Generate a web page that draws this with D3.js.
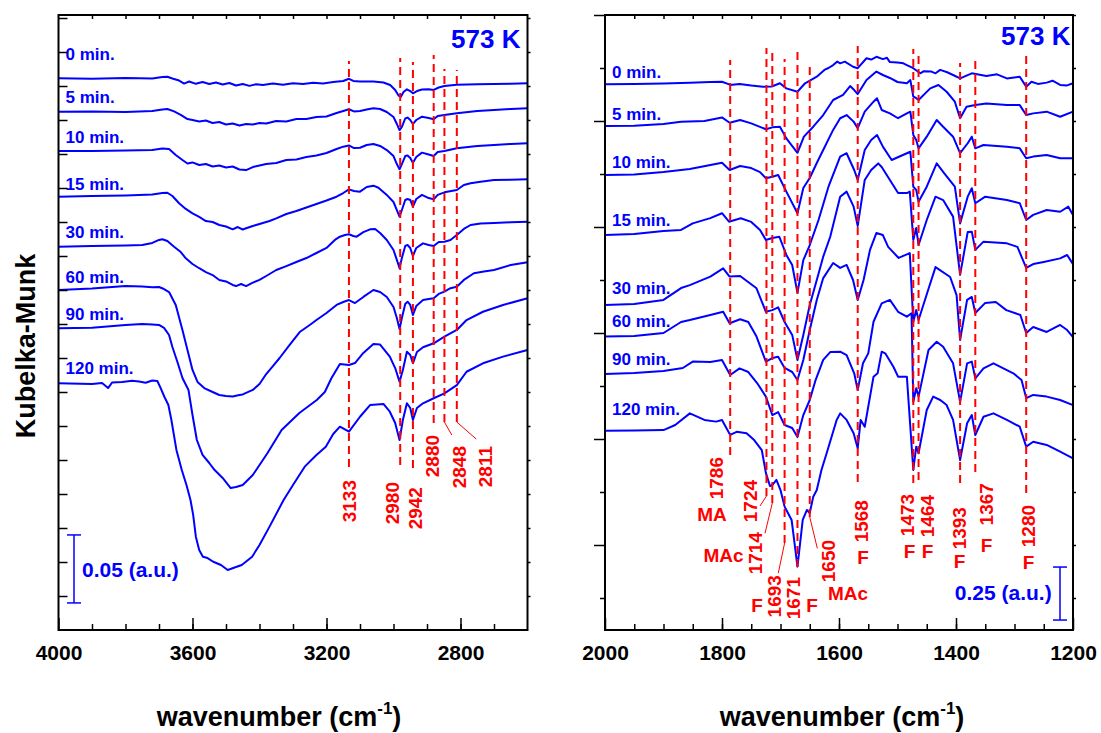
<!DOCTYPE html>
<html>
<head>
<meta charset="utf-8">
<script src="https://cdn.jsdelivr.net/npm/d3@7"></script>
<style>
  body { margin: 0; background: #fff; }
  svg { display: block; }
</style>
</head>
<body>
<div id="chart"></div>
<script>
// ---- data ----
const timeLabels = ['0 min.', '5 min.', '10 min.', '15 min.', '30 min.', '60 min.', '90 min.', '120 min.'];

// 4000-2600 cm-1, Kubelka-Munk (a.u., stacked)
const chSpectra = [
  [[4000,.4057],[3900,.4054],[3800,.4059],[3720,.4055],[3690,.4066],[3675,.4068],[3660,.4055],[3640,.4040],[3625,.4018],[3610,.4033],[3590,.4016],[3570,.4029],[3550,.4015],[3530,.4026],[3510,.4011],[3490,.4022],[3470,.4004],[3450,.4015],[3430,.4001],[3410,.4013],[3390,.4007],[3360,.4018],[3330,.4009],[3300,.4021],[3270,.4015],[3240,.4024],[3210,.4018],[3180,.4029],[3150,.4037],[3133,.4053],[3120,.4037],[3100,.4033],[3060,.4033],[3030,.4026],[3010,.4007],[2995,.3971],[2985,.3930],[2978,.3921],[2970,.3956],[2960,.3976],[2950,.3963],[2942,.3946],[2930,.3963],[2915,.3974],[2895,.3976],[2880,.3971],[2865,.3989],[2848,.4000],[2811,.4010],[2750,.4013],[2700,.4015],[2650,.4017],[2600,.4020]],
  [[4000,.3811],[3900,.3813],[3800,.3809],[3720,.3816],[3690,.3827],[3675,.3831],[3655,.3813],[3635,.3787],[3615,.3757],[3600,.3750],[3580,.3739],[3560,.3746],[3540,.3728],[3520,.3735],[3500,.3717],[3480,.3724],[3460,.3710],[3440,.3721],[3420,.3717],[3400,.3728],[3380,.3724],[3350,.3743],[3320,.3739],[3290,.3757],[3260,.3757],[3230,.3772],[3200,.3776],[3170,.3801],[3150,.3816],[3133,.3829],[3118,.3813],[3100,.3816],[3080,.3827],[3060,.3836],[3040,.3831],[3020,.3809],[3000,.3772],[2990,.3721],[2982,.3676],[2975,.3699],[2965,.3761],[2958,.3768],[2950,.3750],[2942,.3721],[2932,.3750],[2915,.3774],[2895,.3765],[2880,.3755],[2868,.3779],[2848,.3787],[2811,.3799],[2750,.3816],[2700,.3824],[2650,.3831],[2600,.3836]],
  [[4000,.3522],[3900,.3522],[3800,.3526],[3720,.3529],[3690,.3540],[3670,.3537],[3650,.3493],[3630,.3456],[3615,.3430],[3600,.3438],[3580,.3419],[3560,.3426],[3540,.3408],[3520,.3415],[3500,.3401],[3480,.3408],[3460,.3386],[3440,.3382],[3420,.3404],[3400,.3415],[3380,.3426],[3350,.3434],[3320,.3456],[3290,.3460],[3260,.3478],[3230,.3489],[3200,.3507],[3170,.3537],[3150,.3554],[3133,.3563],[3118,.3544],[3100,.3546],[3080,.3566],[3060,.3574],[3040,.3559],[3020,.3529],[3000,.3485],[2990,.3426],[2982,.3388],[2975,.3426],[2965,.3485],[2958,.3489],[2950,.3471],[2942,.3436],[2932,.3478],[2915,.3510],[2895,.3496],[2880,.3485],[2868,.3515],[2848,.3522],[2811,.3542],[2750,.3559],[2700,.3566],[2650,.3574],[2600,.3579]],
  [[4000,.3186],[3900,.3191],[3800,.3195],[3720,.3202],[3690,.3213],[3675,.3215],[3660,.3191],[3640,.3138],[3620,.3096],[3600,.3064],[3580,.3037],[3560,.3007],[3540,.3000],[3520,.2978],[3500,.2967],[3480,.2946],[3465,.2963],[3450,.2945],[3440,.2954],[3420,.2971],[3400,.2985],[3370,.3007],[3350,.3027],[3320,.3059],[3290,.3081],[3260,.3107],[3230,.3132],[3200,.3158],[3170,.3186],[3150,.3213],[3133,.3240],[3118,.3228],[3100,.3223],[3080,.3257],[3060,.3267],[3045,.3252],[3020,.3199],[3000,.3147],[2990,.3088],[2982,.3039],[2975,.3088],[2965,.3162],[2958,.3169],[2950,.3162],[2942,.3113],[2932,.3169],[2915,.3199],[2895,.3176],[2880,.3167],[2868,.3199],[2848,.3218],[2811,.3235],[2790,.3272],[2770,.3285],[2740,.3296],[2700,.3309],[2650,.3311],[2600,.3314]],
  [[4000,.2818],[3900,.2824],[3800,.2827],[3750,.2831],[3720,.2846],[3700,.2868],[3690,.2873],[3675,.2860],[3655,.2818],[3635,.2779],[3620,.2733],[3600,.2691],[3580,.2660],[3560,.2632],[3540,.2610],[3520,.2574],[3500,.2563],[3480,.2537],[3470,.2529],[3455,.2544],[3440,.2529],[3420,.2554],[3400,.2574],[3380,.2603],[3350,.2647],[3320,.2676],[3290,.2706],[3260,.2735],[3230,.2772],[3200,.2809],[3175,.2868],[3160,.2892],[3145,.2904],[3133,.2910],[3120,.2897],[3110,.2892],[3090,.2926],[3070,.2946],[3055,.2949],[3040,.2919],[3020,.2868],[3000,.2794],[2990,.2721],[2982,.2660],[2975,.2735],[2965,.2824],[2958,.2831],[2950,.2809],[2942,.2750],[2932,.2809],[2912,.2843],[2895,.2831],[2880,.2824],[2865,.2853],[2848,.2855],[2830,.2868],[2811,.2904],[2790,.2949],[2770,.2978],[2740,.2989],[2700,.2993],[2650,.2998],[2600,.3002]],
  [[4000,.2500],[3900,.2511],[3800,.2529],[3750,.2526],[3720,.2520],[3700,.2522],[3685,.2507],[3670,.2485],[3650,.2390],[3630,.2206],[3615,.2059],[3600,.1912],[3585,.1824],[3565,.1779],[3540,.1750],[3520,.1728],[3500,.1721],[3480,.1717],[3460,.1728],[3450,.1732],[3420,.1765],[3400,.1809],[3380,.1882],[3360,.1941],[3340,.2000],[3310,.2096],[3280,.2191],[3250,.2243],[3230,.2279],[3200,.2331],[3170,.2390],[3150,.2412],[3133,.2426],[3115,.2404],[3090,.2449],[3060,.2500],[3040,.2485],[3020,.2449],[3000,.2375],[2990,.2294],[2982,.2213],[2975,.2294],[2965,.2397],[2958,.2414],[2950,.2390],[2942,.2316],[2932,.2382],[2912,.2426],[2895,.2434],[2880,.2439],[2865,.2471],[2848,.2488],[2830,.2513],[2811,.2524],[2790,.2574],[2760,.2623],[2730,.2636],[2700,.2647],[2650,.2684],[2600,.2704]],
  [[4000,.2218],[3900,.2223],[3800,.2243],[3750,.2250],[3720,.2246],[3700,.2243],[3685,.2221],[3670,.2169],[3660,.2081],[3645,.1971],[3630,.1853],[3612,.1765],[3600,.1581],[3587,.1397],[3570,.1287],[3550,.1228],[3534,.1176],[3510,.1118],[3486,.1044],[3470,.1051],[3450,.1066],[3420,.1140],[3376,.1301],[3334,.1471],[3281,.1596],[3229,.1691],[3205,.1750],[3185,.1853],[3160,.1956],[3133,.1949],[3115,.1963],[3090,.2037],[3060,.2103],[3040,.2099],[3011,.2010],[2995,.1926],[2982,.1826],[2972,.1912],[2960,.2046],[2950,.2022],[2942,.1961],[2930,.2044],[2912,.2079],[2880,.2108],[2848,.2157],[2811,.2206],[2782,.2279],[2733,.2340],[2673,.2390],[2600,.2439]],
  [[4000,.1814],[3900,.1809],[3870,.1816],[3852,.1779],[3840,.1820],[3810,.1824],[3780,.1833],[3760,.1827],[3740,.1818],[3720,.1835],[3705,.1831],[3695,.1779],[3684,.1715],[3672,.1654],[3663,.1544],[3648,.1324],[3632,.1176],[3618,.1066],[3606,.0956],[3598,.0846],[3590,.0686],[3580,.0588],[3569,.0539],[3555,.0529],[3538,.0502],[3515,.0478],[3495,.0441],[3470,.0463],[3453,.0478],[3422,.0539],[3400,.0625],[3370,.0760],[3328,.0956],[3300,.1066],[3265,.1201],[3230,.1287],[3202,.1348],[3180,.1441],[3160,.1495],[3133,.1458],[3100,.1568],[3070,.1654],[3030,.1662],[3011,.1605],[2995,.1522],[2982,.1397],[2972,.1544],[2960,.1667],[2950,.1632],[2942,.1544],[2930,.1632],[2912,.1667],[2880,.1704],[2848,.1740],[2811,.1801],[2782,.1899],[2733,.1961],[2673,.2010],[2600,.2059]]
];

// 2000-1200 cm-1, Kubelka-Munk (a.u., stacked)
const fpSpectra = [
  [[2000,2.423],[1950,2.425],[1900,2.427],[1855,2.431],[1820,2.434],[1800,2.435],[1790,2.425],[1786,2.420],[1770,2.425],[1750,2.417],[1730,2.412],[1715,2.413],[1701,2.428],[1690,2.404],[1671,2.388],[1658,2.428],[1638,2.459],[1625,2.491],[1618,2.500],[1610,2.514],[1603,2.530],[1598,2.522],[1590,2.530],[1576,2.506],[1568,2.499],[1553,2.546],[1545,2.540],[1536,2.553],[1525,2.542],[1518,2.548],[1513,2.528],[1500,2.526],[1490,2.522],[1484,2.514],[1473,2.499],[1461,2.475],[1455,2.485],[1442,2.483],[1435,2.475],[1427,2.491],[1415,2.480],[1405,2.467],[1393,2.451],[1373,2.475],[1348,2.462],[1330,2.470],[1313,2.451],[1291,2.459],[1280,2.412],[1271,2.435],[1260,2.425],[1245,2.431],[1235,2.440],[1222,2.420],[1210,2.418],[1200,2.428]],
  [[2000,2.226],[1950,2.228],[1900,2.236],[1870,2.247],[1830,2.250],[1800,2.267],[1787,2.242],[1769,2.255],[1750,2.239],[1725,2.211],[1714,2.220],[1701,2.223],[1690,2.168],[1671,2.100],[1660,2.176],[1644,2.223],[1627,2.278],[1610,2.349],[1593,2.373],[1581,2.415],[1574,2.396],[1568,2.377],[1553,2.443],[1536,2.483],[1525,2.467],[1513,2.453],[1500,2.434],[1484,2.428],[1478,2.443],[1473,2.365],[1469,2.360],[1464,2.349],[1444,2.404],[1430,2.420],[1416,2.388],[1402,2.341],[1393,2.263],[1382,2.317],[1367,2.325],[1348,2.333],[1313,2.325],[1291,2.325],[1280,2.278],[1268,2.286],[1245,2.294],[1222,2.270],[1200,2.294]],
  [[2000,1.995],[1950,1.998],[1900,2.009],[1855,2.024],[1800,2.053],[1787,2.019],[1769,2.038],[1750,2.028],[1735,2.009],[1725,1.980],[1714,1.987],[1704,1.995],[1690,1.917],[1671,1.815],[1661,1.934],[1650,1.981],[1638,2.052],[1627,2.113],[1610,2.208],[1598,2.263],[1587,2.278],[1575,2.247],[1568,2.216],[1556,2.294],[1541,2.341],[1535,2.357],[1527,2.302],[1513,2.286],[1499,2.263],[1484,2.286],[1478,2.294],[1473,2.184],[1468,2.160],[1464,2.121],[1450,2.176],[1433,2.255],[1422,2.223],[1405,2.176],[1393,2.098],[1380,2.145],[1373,2.176],[1367,2.121],[1353,2.137],[1313,2.129],[1291,2.121],[1280,2.074],[1268,2.082],[1245,2.090],[1222,2.074],[1200,2.074]],
  [[2000,1.712],[1950,1.717],[1900,1.731],[1870,1.736],[1850,1.767],[1820,1.792],[1800,1.815],[1788,1.775],[1768,1.791],[1750,1.774],[1735,1.736],[1725,1.689],[1714,1.698],[1702,1.704],[1690,1.618],[1680,1.571],[1671,1.439],[1661,1.594],[1651,1.657],[1635,1.783],[1618,1.940],[1598,2.082],[1587,2.098],[1574,2.019],[1568,1.972],[1556,2.113],[1545,2.160],[1535,2.184],[1525,2.129],[1510,2.066],[1484,2.098],[1478,2.105],[1473,1.940],[1468,1.925],[1464,1.869],[1450,1.940],[1433,2.050],[1420,2.003],[1402,1.940],[1393,1.767],[1380,1.893],[1373,1.933],[1367,1.862],[1350,1.893],[1313,1.877],[1291,1.862],[1280,1.783],[1268,1.807],[1245,1.830],[1222,1.822],[1208,1.846],[1200,1.807]],
  [[2000,1.382],[1950,1.387],[1900,1.406],[1870,1.462],[1855,1.476],[1820,1.516],[1798,1.555],[1787,1.516],[1769,1.519],[1741,1.461],[1725,1.350],[1714,1.358],[1704,1.371],[1693,1.302],[1680,1.241],[1671,1.123],[1661,1.241],[1650,1.382],[1638,1.500],[1627,1.610],[1615,1.704],[1598,1.893],[1587,1.917],[1575,1.846],[1568,1.755],[1556,1.972],[1545,2.019],[1533,2.050],[1527,2.033],[1513,1.972],[1499,1.910],[1484,1.910],[1479,1.917],[1473,1.689],[1468,1.745],[1464,1.665],[1450,1.783],[1435,1.893],[1422,1.877],[1405,1.799],[1393,1.524],[1380,1.726],[1373,1.728],[1367,1.642],[1353,1.681],[1313,1.673],[1295,1.656],[1280,1.557],[1268,1.575],[1250,1.585],[1222,1.602],[1210,1.618],[1200,1.575]],
  [[2000,1.233],[1950,1.236],[1900,1.250],[1870,1.302],[1855,1.311],[1820,1.335],[1798,1.350],[1787,1.296],[1769,1.315],[1755,1.302],[1741,1.233],[1725,1.115],[1714,1.132],[1704,1.138],[1693,1.085],[1680,1.066],[1671,1.028],[1661,1.123],[1650,1.264],[1638,1.406],[1627,1.509],[1610,1.580],[1598,1.557],[1587,1.571],[1576,1.500],[1568,1.406],[1558,1.500],[1547,1.642],[1536,1.722],[1525,1.712],[1516,1.656],[1498,1.604],[1479,1.627],[1473,1.302],[1468,1.358],[1464,1.311],[1446,1.467],[1435,1.561],[1410,1.514],[1399,1.429],[1393,1.217],[1381,1.406],[1373,1.420],[1367,1.344],[1350,1.392],[1332,1.396],[1314,1.358],[1290,1.335],[1280,1.250],[1268,1.278],[1245,1.255],[1222,1.288],[1210,1.264],[1200,1.231]],
  [[2000,1.057],[1950,1.061],[1900,1.071],[1867,1.085],[1850,1.115],[1820,1.113],[1800,1.123],[1786,1.052],[1770,1.083],[1755,1.066],[1740,1.014],[1725,0.950],[1714,0.863],[1704,0.877],[1693,0.816],[1680,0.802],[1671,0.759],[1661,0.863],[1650,0.934],[1640,1.028],[1627,1.123],[1615,1.160],[1598,1.162],[1587,1.146],[1574,1.060],[1568,0.981],[1559,1.107],[1550,1.154],[1541,1.303],[1527,1.390],[1513,1.406],[1499,1.350],[1484,1.327],[1476,1.343],[1473,0.926],[1468,0.989],[1464,0.950],[1447,1.170],[1433,1.209],[1422,1.185],[1405,1.107],[1393,0.925],[1381,1.107],[1373,1.115],[1367,1.036],[1353,1.083],[1336,1.107],[1302,1.060],[1288,1.028],[1280,0.943],[1268,0.958],[1245,0.950],[1222,0.934],[1200,0.910]],
  [[2000,0.789],[1950,0.790],[1900,0.792],[1880,0.816],[1855,0.871],[1830,0.840],[1810,0.832],[1800,0.840],[1786,0.769],[1775,0.784],[1758,0.777],[1745,0.745],[1732,0.698],[1725,0.590],[1718,0.528],[1714,0.533],[1707,0.557],[1700,0.509],[1693,0.431],[1681,0.368],[1671,0.148],[1662,0.368],[1655,0.415],[1650,0.401],[1644,0.478],[1638,0.509],[1630,0.604],[1621,0.684],[1604,0.840],[1598,0.871],[1587,0.840],[1575,0.777],[1568,0.706],[1563,0.840],[1556,0.808],[1541,1.044],[1534,1.060],[1527,1.162],[1521,1.154],[1507,1.091],[1499,1.044],[1484,1.044],[1473,0.604],[1468,0.714],[1464,0.683],[1450,0.887],[1439,0.950],[1427,0.934],[1416,0.910],[1405,0.840],[1393,0.651],[1381,0.824],[1373,0.863],[1367,0.769],[1353,0.855],[1336,0.871],[1313,0.840],[1291,0.808],[1280,0.714],[1268,0.737],[1245,0.722],[1222,0.690],[1200,0.659]]
];

// band markers (cm-1) with extent of the dashed guide (a.u.)
const chBands = [3133, 2980, 2942, 2880, 2848, 2811];
const chBandTop = [0.4184, 0.4206, 0.4176, 0.4228, 0.4125, 0.4118];
const chBandBottom = [0.1199, 0.1213, 0.1191, 0.1522, 0.1529, 0.1529];
const chLabelAt = [[3133, 0.1103], [3004, 0.1088], [2936, 0.1051], [2884, 0.1434], [2805, 0.1353], [2727, 0.1353]];
const chLeaders = [[[2848, 0.1529], [2826, 0.1434]], [[2811, 0.1529], [2753, 0.1404]]];

const fpBands = [1786, 1724, 1714, 1693, 1671, 1650, 1568, 1473, 1464, 1393, 1367, 1280];
const fpBandTop = [2.538, 2.594, 2.575, 2.542, 2.575, 2.509, 2.604, 2.590, 2.575, 2.524, 2.557, 2.557];
const fpBandBottom = [0.675, 0.481, 0.448, 0.259, 0.146, 0.382, 0.547, 0.542, 0.557, 0.542, 0.594, 0.495];
const fpLabelAt = [[1809.4, 0.665], [1752.1, 0.557], [1743.6, 0.311], [1711.1, 0.108], [1677.6, 0.099], [1617.8, 0.274],
  [1562.4, 0.462], [1482.9, 0.491], [1448.7, 0.486], [1394, 0.429], [1347.9, 0.542], [1276.1, 0.439]];
const fpLeaders = [[[1724, 0.481], [1735, 0.434]], [[1714, 0.448], [1726.5, 0.305]],
  [[1693, 0.259], [1703.8, 0.117]], [[1650, 0.382], [1637, 0.234]]];
const fpAssign = ['MA', 'MAc', 'F', 'F', 'MAc', 'F', 'F', 'F', 'F', 'F', 'F'];
const fpAssignAt = [[1817, 0.365], [1797.4, 0.171], [1740.2, -0.065], [1646.2, -0.065], [1584.6, -0.009],
  [1559, 0.160], [1479.5, 0.189], [1448.7, 0.189], [1394, 0.142], [1347.9, 0.217], [1276.1, 0.137]];

// where the time labels sit (wavenumber, a.u. of baseline)
const chTimeAt = [0.4191, 0.3875, 0.3581, 0.3235, 0.2882, 0.2551, 0.2279, 0.1882];
const fpTimeAt = [2.453, 2.255, 2.028, 1.755, 1.434, 1.278, 1.099, 0.863];

// ---- drawing ----
const W = 1101, H = 733;
const TOP = 15, BOTTOM = 630;
const BLUE = '#0000ff', RED = '#ff0000';
const FONT = '"Liberation Sans", Arial, Helvetica, sans-serif';

const svg = d3.select('#chart').append('svg')
  .attr('width', W).attr('height', H)
  .attr('font-family', FONT).attr('font-weight', 'bold');

function drawPanel(p) {
  const x = d3.scaleLinear().domain(p.xDomain).range(p.xRange);
  const y = d3.scaleLinear().domain(p.yDomain).range([BOTTOM, TOP]);
  const g = svg.append('g');

  // spectra
  const line = d3.line().x(d => x(d[0])).y(d => y(d[1]));
  g.append('g').selectAll('path')
    .data(p.spectra)
    .join('path')
      .attr('d', line)
      .attr('fill', 'none')
      .attr('stroke', BLUE)
      .attr('stroke-width', 2)
      .attr('stroke-linejoin', 'round');

  // dashed band guides
  g.append('g').selectAll('line')
    .data(p.bands)
    .join('line')
      .attr('x1', d => x(d)).attr('x2', d => x(d))
      .attr('y1', (d, i) => y(p.bandBottom[i]))
      .attr('y2', (d, i) => y(p.bandTop[i]))
      .attr('stroke', RED)
      .attr('stroke-width', 2)
      .attr('stroke-dasharray', '8,5');

  g.append('g').selectAll('line')
    .data(p.leaders)
    .join('line')
      .attr('x1', d => x(d[0][0])).attr('y1', d => y(d[0][1]))
      .attr('x2', d => x(d[1][0])).attr('y2', d => y(d[1][1]))
      .attr('stroke', RED)
      .attr('stroke-width', 1);

  g.append('g').selectAll('text')
    .data(p.bands)
    .join('text')
      .attr('transform', (d, i) => `translate(${x(p.labelAt[i][0])},${y(p.labelAt[i][1])}) rotate(-90)`)
      .attr('text-anchor', 'end')
      .attr('dy', '0.36em')
      .attr('font-size', 19)
      .attr('fill', RED)
      .text(d => d);

  if (p.assign) {
    g.append('g').selectAll('text')
      .data(p.assign)
      .join('text')
        .attr('x', (d, i) => x(p.assignAt[i][0]))
        .attr('y', (d, i) => y(p.assignAt[i][1]))
        .attr('text-anchor', 'middle')
        .attr('font-size', 19)
        .attr('fill', RED)
        .text(d => d);
  }

  // time labels
  g.append('g').selectAll('text')
    .data(timeLabels)
    .join('text')
      .attr('x', x(p.xDomain[0]) + 7)
      .attr('y', (d, i) => y(p.timeAt[i]))
      .attr('font-size', 17)
      .attr('fill', BLUE)
      .text(d => d);

  // scale bar
  const sb = p.scaleBar;
  const sbx = x(sb.wn);
  g.append('line').attr('x1', sbx).attr('x2', sbx)
    .attr('y1', y(sb.from)).attr('y2', y(sb.from + sb.size))
    .attr('stroke', BLUE).attr('stroke-width', 1.5);
  [sb.from, sb.from + sb.size].forEach(v => {
    g.append('line').attr('x1', sbx - 7).attr('x2', sbx + 7)
      .attr('y1', y(v)).attr('y2', y(v))
      .attr('stroke', BLUE).attr('stroke-width', 1.5);
  });
  g.append('text')
    .attr('x', x(sb.labelAt[0])).attr('y', y(sb.labelAt[1]))
    .attr('text-anchor', sb.anchor)
    .attr('font-size', 21)
    .attr('fill', BLUE)
    .text(`${sb.size} (a.u.)`);

  // temperature tag
  g.append('text')
    .attr('x', p.xRange[1] - p.tagInset[0])
    .attr('y', TOP + p.tagInset[1])
    .attr('text-anchor', 'end')
    .attr('font-size', 26)
    .attr('fill', BLUE)
    .text('573 K');

  // axes
  const axes = g.append('g').attr('fill', 'none');
  const styleAxis = sel => {
    sel.select('.domain').remove();
    sel.selectAll('line').attr('stroke-width', 1.5);
    sel.attr('font-family', FONT).attr('font-size', 21).attr('font-weight', 'bold');
  };
  axes.append('g').attr('transform', `translate(0,${BOTTOM})`)
    .call(d3.axisBottom(x).tickValues(p.minorX).tickSize(-6).tickFormat(''))
    .call(styleAxis);
  axes.append('g').attr('transform', `translate(0,${BOTTOM})`)
    .call(d3.axisBottom(x).tickValues(p.majorX).tickSize(-12).tickPadding(15).tickFormat(d3.format('d')))
    .call(styleAxis);
  axes.append('g').attr('transform', `translate(0,${TOP})`)
    .call(d3.axisTop(x).tickValues(p.minorX).tickSize(-4).tickFormat(''))
    .call(styleAxis);

  const yTicks = p.yTicks;
  if (p.leftInward) {
    axes.append('g').attr('transform', `translate(${p.xRange[0]},0)`)
      .call(d3.axisLeft(y).tickValues(yTicks).tickSize(-9).tickFormat(''))
      .call(styleAxis);
  } else {
    axes.append('g').attr('transform', `translate(${p.xRange[0]},0)`)
      .call(d3.axisLeft(y).tickValues(yTicks.filter((d, i) => i % 2 === 0)).tickSize(5).tickFormat(''))
      .call(styleAxis);
    axes.append('g').attr('transform', `translate(${p.xRange[0]},0)`)
      .call(d3.axisLeft(y).tickValues(yTicks.filter((d, i) => i % 2 === 1)).tickSize(11).tickFormat(''))
      .call(styleAxis);
  }
  axes.append('g').attr('transform', `translate(${p.xRange[1]},0)`)
    .call(d3.axisRight(y).tickValues(yTicks).tickSize(3).tickFormat(''))
    .call(styleAxis);

  g.append('rect')
    .attr('x', p.xRange[0]).attr('y', TOP)
    .attr('width', p.xRange[1] - p.xRange[0]).attr('height', BOTTOM - TOP)
    .attr('fill', 'none').attr('stroke', '#000').attr('stroke-width', 2);

  // x title
  const t = g.append('text')
    .attr('x', p.titleX).attr('y', 726)
    .attr('text-anchor', 'middle')
    .attr('font-size', 27)
    .attr('fill', '#000');
  t.append('tspan').text('wavenumber (cm');
  t.append('tspan').attr('font-size', 17).attr('dy', -12).text('-1');
  t.append('tspan').attr('dy', 12).text(')');
}

drawPanel({
  xDomain: [4000, 2600], xRange: [58.5, 527.5],
  yDomain: [0, (BOTTOM - TOP) / 1360],
  spectra: chSpectra,
  bands: chBands, bandTop: chBandTop, bandBottom: chBandBottom,
  labelAt: chLabelAt, leaders: chLeaders,
  timeAt: chTimeAt,
  scaleBar: { wn: 3953.7, from: 0.0199, size: 0.05, labelAt: [3929.9, 0.039], anchor: 'start' },
  tagInset: [7, 33],
  majorX: [4000, 3600, 3200, 2800],
  minorX: d3.range(3900, 2600, -100),
  yTicks: d3.range(1, 19).map(k => k * 0.025),
  leftInward: true,
  titleX: 279
});

drawPanel({
  xDomain: [2000, 1200], xRange: [605, 1073],
  yDomain: [-32 / 212, 583 / 212],
  spectra: fpSpectra,
  bands: fpBands, bandTop: fpBandTop, bandBottom: fpBandBottom,
  labelAt: fpLabelAt, leaders: fpLeaders,
  assign: fpAssign, assignAt: fpAssignAt,
  timeAt: fpTimeAt,
  scaleBar: { wn: 1222.2, from: -0.104, size: 0.25, labelAt: [1236.4, -0.009], anchor: 'end' },
  tagInset: [2.5, 30],
  majorX: [2000, 1800, 1600, 1400, 1200],
  minorX: d3.range(1950, 1200, -50),
  yTicks: d3.range(0, 12).map(k => k * 0.25),
  leftInward: false,
  titleX: 842
});

svg.append('text')
  .attr('transform', 'translate(35,346) rotate(-90)')
  .attr('text-anchor', 'middle')
  .attr('font-size', 27)
  .attr('fill', '#000')
  .text('Kubelka-Munk');
</script>
</body>
</html>
